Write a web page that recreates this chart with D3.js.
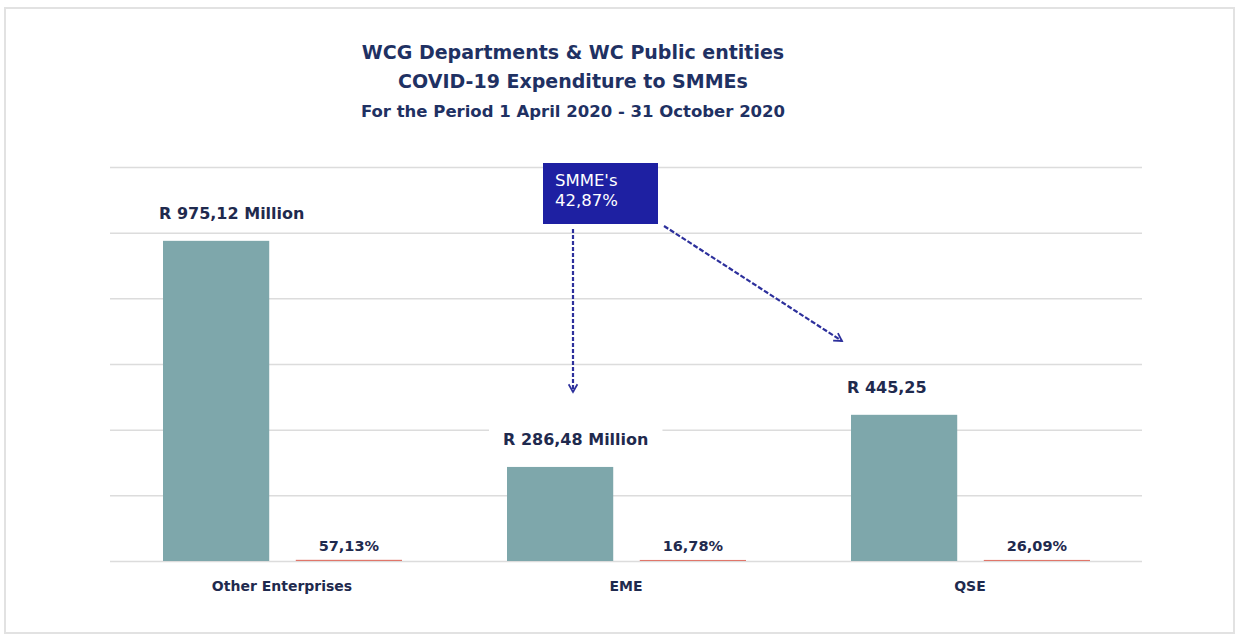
<!DOCTYPE html>
<html>
<head>
<meta charset="utf-8">
<script src="https://cdn.jsdelivr.net/npm/d3@7"></script>
<style>
  body { margin: 0; background: #fff; }
  text { font-family: "DejaVu Sans", "Open Sans", sans-serif; }
</style>
</head>
<body>
<div id="chart"></div>
<script>
// chart data
const categories = ["Other Enterprises", "EME", "QSE"];
const amounts = [975.12, 286.48, 445.25];          // R million
const amountLabels = ["R 975,12 Million", "R 286,48 Million", "R 445,25"];
const shares = [57.13, 16.78, 26.09];               // percent of total
const shareLabels = ["57,13%", "16,78%", "26,09%"];
const yTicks = [0, 200, 400, 600, 800, 1000, 1200];
const titleLines = [
  "WCG Departments & WC Public entities",
  "COVID-19 Expenditure to SMMEs",
  "For the Period 1 April 2020 - 31 October 2020"
];
const smmeBox = ["SMME's", "42,87%"];

const W = 1237, H = 637;
const margin = { top: 167, right: 95, bottom: 76, left: 110 };
const innerW = W - margin.left - margin.right;
const innerH = H - margin.top - margin.bottom;

const navy = "#1f2a4e";
const teal = "#7ea7ab";
const red = "#e0766a";
const arrowBlue = "#2d309c";

const svg = d3.select("#chart").append("svg")
  .attr("width", W)
  .attr("height", H);

// outer frame
svg.append("rect")
  .attr("x", 5).attr("y", 8)
  .attr("width", W - 8).attr("height", H - 12)
  .attr("fill", "#fff")
  .attr("stroke", "#e2e2e2")
  .attr("stroke-width", 2);

// title
svg.append("g").selectAll("text")
  .data(titleLines)
  .enter().append("text")
  .attr("x", 573)
  .attr("y", (d, i) => [59, 88, 117][i])
  .attr("text-anchor", "middle")
  .attr("font-weight", "bold")
  .attr("font-size", (d, i) => i < 2 ? 19 : 16.5)
  .attr("fill", "#1f3163")
  .text(d => d);

const g = svg.append("g")
  .attr("transform", "translate(" + margin.left + "," + margin.top + ")");

const x = d3.scaleBand().domain(categories).range([0, innerW]);
const x1 = d3.scaleBand().domain(["amount", "share"]).range([53, 292]).paddingInner(0.2);
const y = d3.scaleLinear().domain([0, 1200]).range([innerH, 0]);

// gridlines
g.append("g")
  .attr("class", "grid")
  .call(d3.axisLeft(y).tickValues(yTicks).tickSize(-innerW).tickFormat(""))
  .call(s => s.select(".domain").remove())
  .call(s => s.selectAll("line").attr("stroke", "#dcdcdc").attr("stroke-width", 1.5));

const rows = categories.map((c, i) => ({
  cat: c, amount: amounts[i], share: shares[i] / 100,
  amountLabel: amountLabels[i], shareLabel: shareLabels[i]
}));

// amount bars
g.selectAll("rect.amount")
  .data(rows)
  .enter().append("rect")
  .attr("class", "amount")
  .attr("x", d => x(d.cat) + x1("amount"))
  .attr("y", d => y(d.amount))
  .attr("width", x1.bandwidth())
  .attr("height", d => innerH - y(d.amount))
  .attr("fill", teal);

// share bars (same axis, so they are only a sliver)
g.selectAll("rect.share")
  .data(rows)
  .enter().append("rect")
  .attr("class", "share")
  .attr("x", d => x(d.cat) + x1("share"))
  .attr("y", d => y(d.share) - 1)
  .attr("width", x1.bandwidth())
  .attr("height", d => innerH - y(d.share) + 1)
  .attr("fill", red);

// amount labels with white background
const amt = g.selectAll("g.amt-label")
  .data(rows)
  .enter().append("g")
  .attr("class", "amt-label");
amt.append("rect").attr("fill", "#fff");
amt.append("text")
  .attr("x", d => x(d.cat) + x1("amount") - 4)
  .attr("y", d => y(d.amount) - 22)
  .attr("font-weight", "bold")
  .attr("font-size", 16)
  .attr("fill", navy)
  .text(d => d.amountLabel);
amt.each(function() {
  const b = d3.select(this).select("text").node().getBBox();
  d3.select(this).select("rect")
    .attr("x", b.x - 14).attr("y", b.y - 6)
    .attr("width", b.width + 28).attr("height", b.height + 14);
});

// share labels
const sh = g.selectAll("g.share-label")
  .data(rows)
  .enter().append("g")
  .attr("class", "share-label");
sh.append("rect").attr("fill", "#fff");
sh.append("text")
  .attr("x", d => x(d.cat) + x1("share") + x1.bandwidth() / 2)
  .attr("y", d => y(d.share) - 10)
  .attr("text-anchor", "middle")
  .attr("font-weight", "bold")
  .attr("font-size", 14.5)
  .attr("fill", navy)
  .text(d => d.shareLabel);
sh.each(function() {
  const b = d3.select(this).select("text").node().getBBox();
  d3.select(this).select("rect")
    .attr("x", b.x - 10).attr("y", b.y - 4)
    .attr("width", b.width + 20).attr("height", b.height + 4);
});
sh.raise();

// category axis
g.append("g")
  .attr("transform", "translate(0," + innerH + ")")
  .call(d3.axisBottom(x).tickSize(0).tickPadding(20))
  .call(s => s.select(".domain").remove())
  .call(s => s.selectAll("text")
    .attr("font-family", "'DejaVu Sans', sans-serif")
    .attr("font-weight", "bold")
    .attr("font-size", 14)
    .attr("fill", navy));

// SMME annotation box + arrows
const defs = svg.append("defs");
defs.append("marker")
  .attr("id", "chev")
  .attr("viewBox", "0 0 10 10")
  .attr("refX", 8).attr("refY", 5)
  .attr("markerWidth", 5).attr("markerHeight", 5)
  .attr("orient", "auto")
  .attr("markerUnits", "strokeWidth")
  .append("path")
  .attr("d", "M1,1 L8,5 L1,9")
  .attr("fill", "none")
  .attr("stroke", arrowBlue)
  .attr("stroke-width", 1.6);

svg.append("rect")
  .attr("x", 543).attr("y", 163)
  .attr("width", 115).attr("height", 61)
  .attr("fill", "#1e20a2");
svg.selectAll("text.smme")
  .data(smmeBox)
  .enter().append("text")
  .attr("class", "smme")
  .attr("x", 555)
  .attr("y", (d, i) => 186 + i * 20)
  .attr("font-size", 16.5)
  .attr("fill", "#fff")
  .text(d => d);

svg.append("line")
  .attr("x1", 573).attr("y1", 229)
  .attr("x2", 573).attr("y2", 392)
  .attr("stroke", arrowBlue)
  .attr("stroke-width", 2.2)
  .attr("stroke-dasharray", "4,2")
  .attr("marker-end", "url(#chev)");

svg.append("line")
  .attr("x1", 664).attr("y1", 226)
  .attr("x2", 842).attr("y2", 341)
  .attr("stroke", arrowBlue)
  .attr("stroke-width", 2.2)
  .attr("stroke-dasharray", "5,2")
  .attr("marker-end", "url(#chev)");
</script>
</body>
</html>
